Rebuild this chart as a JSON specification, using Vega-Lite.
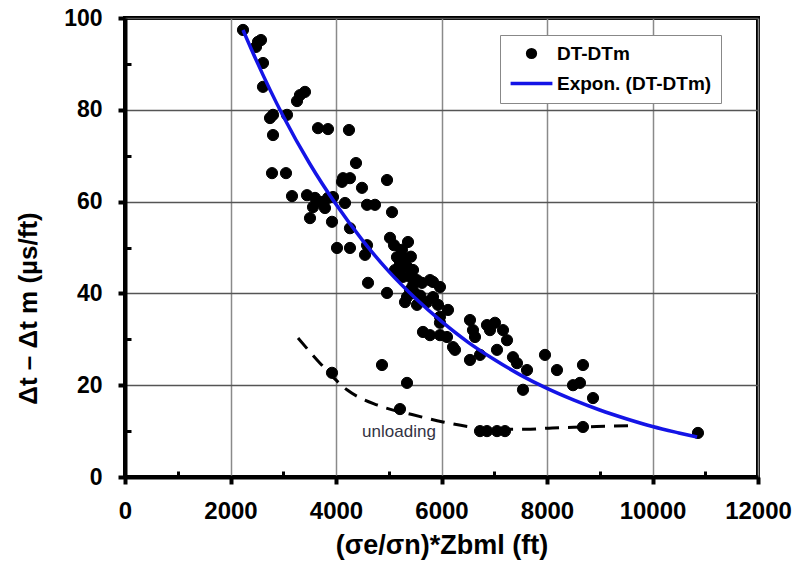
{
  "$schema": "https://vega.github.io/schema/vega-lite/v6.json",
  "width": 633,
  "height": 459,
  "autosize": "none",
  "padding": {"left": 125, "top": 18, "right": 40, "bottom": 92},
  "background": "white",
  "config": {
    "view": {"stroke": "black", "strokeWidth": 4},
    "font": "Liberation Sans",
    "legend": {
      "orient": "none", "legendX": 375, "legendY": 17,
      "fillColor": "white", "strokeColor": "#888888", "padding": 9,
      "labelFont": "Liberation Sans", "labelFontSize": 19, "labelFontWeight": "bold", "labelColor": "black",
      "rowPadding": 9, "symbolStrokeWidth": 3.5, "symbolSize": 60, "symbolOffset": 13, "labelOffset": 16
    }
  },
  "datasets": {
    "pts": [
      {"x":2237,"y":97.4,"s":"DT-DTm"},{"x":2521,"y":94.8,"s":"DT-DTm"},{"x":2578,"y":95.2,"s":"DT-DTm"},{"x":2483,"y":93.7,"s":"DT-DTm"},
      {"x":2616,"y":90.2,"s":"DT-DTm"},{"x":2616,"y":85.0,"s":"DT-DTm"},{"x":3317,"y":83.2,"s":"DT-DTm"},{"x":3412,"y":83.9,"s":"DT-DTm"},
      {"x":3261,"y":81.9,"s":"DT-DTm"},{"x":2806,"y":78.9,"s":"DT-DTm"},{"x":3071,"y":78.9,"s":"DT-DTm"},{"x":2749,"y":78.2,"s":"DT-DTm"},
      {"x":2806,"y":74.5,"s":"DT-DTm"},{"x":2787,"y":66.2,"s":"DT-DTm"},{"x":3052,"y":66.2,"s":"DT-DTm"},{"x":3166,"y":61.2,"s":"DT-DTm"},
      {"x":3659,"y":76.0,"s":"DT-DTm"},{"x":3848,"y":75.8,"s":"DT-DTm"},{"x":4246,"y":75.6,"s":"DT-DTm"},{"x":4379,"y":68.4,"s":"DT-DTm"},
      {"x":4133,"y":65.1,"s":"DT-DTm"},{"x":4265,"y":65.1,"s":"DT-DTm"},{"x":4114,"y":64.3,"s":"DT-DTm"},{"x":4493,"y":63.0,"s":"DT-DTm"},
      {"x":4967,"y":64.7,"s":"DT-DTm"},{"x":4588,"y":59.3,"s":"DT-DTm"},{"x":4739,"y":59.3,"s":"DT-DTm"},{"x":5062,"y":57.7,"s":"DT-DTm"},
      {"x":3450,"y":61.4,"s":"DT-DTm"},{"x":3602,"y":60.8,"s":"DT-DTm"},{"x":3735,"y":59.9,"s":"DT-DTm"},{"x":3848,"y":60.8,"s":"DT-DTm"},
      {"x":3943,"y":61.0,"s":"DT-DTm"},{"x":3564,"y":58.8,"s":"DT-DTm"},{"x":3791,"y":58.6,"s":"DT-DTm"},{"x":3507,"y":56.4,"s":"DT-DTm"},
      {"x":3924,"y":55.6,"s":"DT-DTm"},{"x":4171,"y":59.7,"s":"DT-DTm"},{"x":4265,"y":54.2,"s":"DT-DTm"},{"x":4019,"y":49.9,"s":"DT-DTm"},
      {"x":4265,"y":49.9,"s":"DT-DTm"},{"x":4588,"y":50.5,"s":"DT-DTm"},{"x":4550,"y":48.4,"s":"DT-DTm"},{"x":5024,"y":52.1,"s":"DT-DTm"},
      {"x":4607,"y":42.3,"s":"DT-DTm"},{"x":4967,"y":40.1,"s":"DT-DTm"},{"x":5365,"y":51.2,"s":"DT-DTm"},{"x":5156,"y":47.9,"s":"DT-DTm"},
      {"x":5213,"y":46.6,"s":"DT-DTm"},{"x":5346,"y":45.8,"s":"DT-DTm"},{"x":5460,"y":45.1,"s":"DT-DTm"},{"x":5270,"y":43.6,"s":"DT-DTm"},
      {"x":5403,"y":43.6,"s":"DT-DTm"},{"x":5535,"y":42.9,"s":"DT-DTm"},{"x":5839,"y":42.5,"s":"DT-DTm"},{"x":5971,"y":41.4,"s":"DT-DTm"},
      {"x":5630,"y":42.3,"s":"DT-DTm"},{"x":5782,"y":42.9,"s":"DT-DTm"},{"x":5308,"y":38.1,"s":"DT-DTm"},{"x":5535,"y":37.5,"s":"DT-DTm"},
      {"x":5725,"y":38.1,"s":"DT-DTm"},{"x":5934,"y":37.5,"s":"DT-DTm"},{"x":6123,"y":36.4,"s":"DT-DTm"},{"x":5971,"y":34.9,"s":"DT-DTm"},
      {"x":5346,"y":39.2,"s":"DT-DTm"},{"x":5839,"y":39.2,"s":"DT-DTm"},{"x":6540,"y":34.2,"s":"DT-DTm"},{"x":6597,"y":32.0,"s":"DT-DTm"},
      {"x":6862,"y":33.1,"s":"DT-DTm"},{"x":7014,"y":33.6,"s":"DT-DTm"},{"x":7166,"y":32.0,"s":"DT-DTm"},{"x":5649,"y":31.6,"s":"DT-DTm"},
      {"x":5782,"y":30.9,"s":"DT-DTm"},{"x":5971,"y":30.9,"s":"DT-DTm"},{"x":5971,"y":33.6,"s":"DT-DTm"},{"x":6104,"y":30.5,"s":"DT-DTm"},
      {"x":6218,"y":28.3,"s":"DT-DTm"},{"x":6256,"y":27.7,"s":"DT-DTm"},{"x":7242,"y":29.8,"s":"DT-DTm"},{"x":7052,"y":27.7,"s":"DT-DTm"},
      {"x":7355,"y":26.1,"s":"DT-DTm"},{"x":6540,"y":25.5,"s":"DT-DTm"},{"x":6730,"y":26.6,"s":"DT-DTm"},{"x":7431,"y":24.8,"s":"DT-DTm"},
      {"x":7621,"y":23.3,"s":"DT-DTm"},{"x":7545,"y":19.0,"s":"DT-DTm"},{"x":7962,"y":26.6,"s":"DT-DTm"},{"x":8189,"y":23.3,"s":"DT-DTm"},
      {"x":8682,"y":24.4,"s":"DT-DTm"},{"x":8493,"y":20.0,"s":"DT-DTm"},{"x":8625,"y":20.5,"s":"DT-DTm"},{"x":8872,"y":17.2,"s":"DT-DTm"},
      {"x":6635,"y":30.5,"s":"DT-DTm"},{"x":6919,"y":32.0,"s":"DT-DTm"},{"x":5403,"y":40.7,"s":"DT-DTm"},{"x":5118,"y":45.1,"s":"DT-DTm"},
      {"x":5251,"y":49.5,"s":"DT-DTm"},{"x":5100,"y":50.5,"s":"DT-DTm"},{"x":5200,"y":44.5,"s":"DT-DTm"},{"x":5300,"y":47.5,"s":"DT-DTm"},
      {"x":5420,"y":48.0,"s":"DT-DTm"},{"x":5500,"y":40.0,"s":"DT-DTm"},{"x":5600,"y":39.5,"s":"DT-DTm"},{"x":5450,"y":41.5,"s":"DT-DTm"},
      {"x":3924,"y":22.7,"s":"DT-DTm"},{"x":4872,"y":24.4,"s":"DT-DTm"},{"x":5213,"y":14.8,"s":"DT-DTm"},{"x":5346,"y":20.5,"s":"DT-DTm"},
      {"x":6730,"y":10.0,"s":"DT-DTm"},{"x":6862,"y":10.0,"s":"DT-DTm"},{"x":7052,"y":10.0,"s":"DT-DTm"},{"x":7204,"y":10.0,"s":"DT-DTm"},
      {"x":8682,"y":10.9,"s":"DT-DTm"},{"x":10862,"y":9.6,"s":"DT-DTm"}
    ],
    "fit": [
      {"x":2237,"y":97.4},{"x":2500,"y":90.5},{"x":3000,"y":78.6},{"x":3500,"y":68.3},{"x":4000,"y":59.4},
      {"x":4500,"y":51.6},{"x":5000,"y":44.8},{"x":5500,"y":39.0},{"x":6000,"y":33.9},{"x":6500,"y":29.4},
      {"x":7000,"y":25.6},{"x":7500,"y":22.2},{"x":8000,"y":19.3},{"x":8500,"y":16.8},{"x":9000,"y":14.6},
      {"x":9500,"y":12.7},{"x":10000,"y":11.0},{"x":10500,"y":9.6},{"x":10845,"y":8.7}
    ],
    "unload": [
      {"x":3280,"y":30.3},{"x":3697,"y":24.8},{"x":4208,"y":19.0},{"x":4777,"y":15.7},{"x":5441,"y":13.6},
      {"x":6028,"y":12.0},{"x":6500,"y":11.0},{"x":7000,"y":10.4},{"x":7600,"y":10.4},{"x":8100,"y":10.7},
      {"x":8700,"y":10.9},{"x":9574,"y":11.2}
    ],
    "note": [{"x":5194,"y":9.8,"t":"unloading"}]
  },
  "layer": [
    {
      "data": {"name": "unload"},
      "mark": {"type": "line", "color": "black", "strokeWidth": 3, "strokeDash": [14, 9], "interpolate": "monotone"},
      "encoding": {
        "x": {"field": "x", "type": "quantitative"},
        "y": {"field": "y", "type": "quantitative"}
      }
    },
    {
      "data": {"name": "pts"},
      "mark": {"type": "point", "filled": true, "size": 125, "opacity": 1, "strokeWidth": 1},
      "encoding": {
        "x": {
          "field": "x", "type": "quantitative",
          "scale": {"domain": [0, 12000], "nice": false},
          "axis": {
            "values": [0,1000,2000,3000,4000,5000,6000,7000,8000,9000,10000,11000,12000],
            "labelExpr": "datum.value % 2000 === 0 ? datum.label : ''",
            "format": "d",
            "labelFlush": false, "labelOverlap": false,
            "grid": true,
            "gridColor": "#8a8a8a",
            "gridWidth": 1.5,
            "gridOpacity": {"condition": {"test": "datum.value % 2000 === 0", "value": 1}, "value": 0},
            "domainColor": "black", "domainWidth": 4,
            "tickColor": "black",
            "tickWidth": {"condition": {"test": "datum.value % 2000 === 0", "value": 4}, "value": 3},
            "tickSize": {"condition": {"test": "datum.value % 2000 === 0", "value": 7}, "value": -6},
            "labelFont": "Liberation Sans", "labelFontSize": 24, "labelFontWeight": "bold", "labelColor": "black",
            "labelPadding": 15,
            "title": "(σe/σn)*Zbml (ft)",
            "titleFont": "Liberation Sans", "titleFontSize": 27, "titleFontWeight": "bold", "titleColor": "black",
            "titleY": 68, "titleBaseline": "middle"
          }
        },
        "y": {
          "field": "y", "type": "quantitative",
          "scale": {"domain": [0, 100], "nice": false},
          "axis": {
            "values": [0,10,20,30,40,50,60,70,80,90,100],
            "labelExpr": "datum.value % 20 === 0 ? datum.label : ''",
            "labelFlush": false, "labelOverlap": false,
            "grid": true,
            "gridColor": "#555555",
            "gridWidth": 1.5,
            "gridOpacity": {"condition": {"test": "datum.value % 20 === 0", "value": 1}, "value": 0},
            "domainColor": "black", "domainWidth": 4,
            "tickColor": "black",
            "tickWidth": {"condition": {"test": "datum.value % 20 === 0", "value": 4}, "value": 3},
            "tickSize": {"condition": {"test": "datum.value % 20 === 0", "value": 7}, "value": -6},
            "labelFont": "Liberation Sans", "labelFontSize": 23, "labelFontWeight": "bold", "labelColor": "black",
            "labelPadding": 16,
            "title": "Δt – Δt m (µs/ft)",
            "titleFont": "Liberation Sans", "titleFontSize": 26, "titleFontWeight": "bold", "titleColor": "black",
            "titleX": -97, "titleY": 290, "titleBaseline": "middle"
          }
        },
        "fill": {
          "field": "s", "type": "nominal", "title": null,
          "scale": {"domain": ["DT-DTm", "Expon. (DT-DTm)"], "range": ["black", "transparent"]}
        },
        "stroke": {
          "field": "s", "type": "nominal", "title": null,
          "scale": {"domain": ["DT-DTm", "Expon. (DT-DTm)"], "range": ["black", "#1414e6"]}
        },
        "shape": {
          "field": "s", "type": "nominal", "title": null,
          "scale": {"domain": ["DT-DTm", "Expon. (DT-DTm)"], "range": ["circle", "M-5.4,0H5.4"]}
        }
      }
    },
    {
      "data": {"name": "fit"},
      "mark": {"type": "line", "color": "#1414e6", "strokeWidth": 3.5, "interpolate": "monotone"},
      "encoding": {
        "x": {"field": "x", "type": "quantitative"},
        "y": {"field": "y", "type": "quantitative"}
      }
    },
    {
      "data": {"name": "note"},
      "mark": {"type": "text", "font": "Liberation Sans", "fontSize": 17, "color": "#333344", "baseline": "middle"},
      "encoding": {
        "x": {"field": "x", "type": "quantitative"},
        "y": {"field": "y", "type": "quantitative"},
        "text": {"field": "t"}
      }
    }
  ]
}
